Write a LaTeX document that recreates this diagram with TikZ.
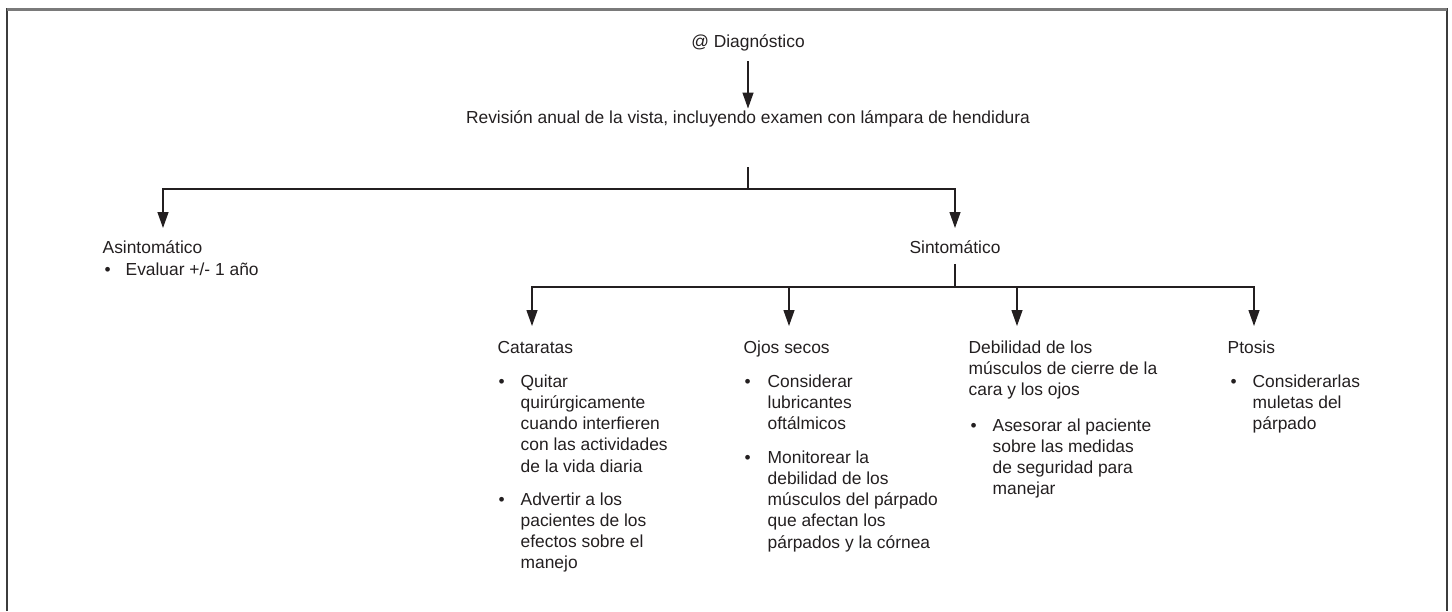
\documentclass[tikz,border=0pt]{standalone}
\usepackage{fontspec}
\setmainfont{Liberation Sans}
\usetikzlibrary{arrows.meta, positioning, calc}
\definecolor{cink}{HTML}{231F20}
\definecolor{cframe}{HTML}{3C3C3C}
\definecolor{cgrey}{HTML}{7A7A7A}
\newcommand{\stacktxt}[1]{\begin{tabular}[t]{@{}l@{}}#1\end{tabular}}
\tikzset{
  every picture/.style={font=\fontsize{17.4}{21.3}\selectfont, line width=1.3pt, x=1pt, y=-1pt},
  head/.style={anchor=base, inner sep=0pt, text=cink},
  label/.style={anchor=base west, inner sep=0pt, text=cink},
  dot/.style={anchor=base west, inner sep=0pt, text=cink},
  link/.style={draw=cink, line width=1.3pt},
  arrow/.style={-{Triangle[length=16pt, width=11pt]}, draw=cink, line width=1.3pt},
}
\begin{document}
\begin{tikzpicture}
  \useasboundingbox (0,0) rectangle (1452,611);
  % frame
  \draw[cframe, line width=2.4pt] (7,611) -- (7,9) -- (1447,9) -- (1447,611);
  \draw[cgrey, line width=3pt] (7,9) -- (1447,9);

  % top of the tree
  \node[head] (diag) at (748,47) {@ Diagnóstico};
  \node[head] (rev) at (748,123) {Revisión anual de la vista, incluyendo examen con lámpara de hendidura};
  \draw[arrow, shorten <=10pt, shorten >=1pt] (diag) -- (rev);
  \coordinate (b1) at (748,189);
  \coordinate (tas) at (163,228);
  \coordinate (tsi) at (955,228);
  \draw[link, shorten <=40pt] (rev) -- (b1);
  \draw[arrow] (b1) -| (tas);
  \draw[arrow] (b1) -| (tsi);

  % asintomatico
  \node[label] (asint) at (102,253) {Asintomático};
  \node[dot] (asd1) at (104,275) {\textbullet};
  \node[label] (asi1) at (125,275) {Evaluar +/- 1 año};

  % sintomatico
  \node[head] (sint) at (955,253) {Sintomático};
  \coordinate (b2) at (955,287);
  \draw[link, shorten <=10pt] (sint) -- (b2);
  \foreach \n/\x in {cat/532, ojo/789, deb/1017, pto/1254} {
    \coordinate (t\n) at (\x,326);
    \draw[arrow] (b2) -| (t\n);
  }

  % cataratas
  \node[label] (cat) at (497,353) {Cataratas};
  \node[dot] (catd1) at (498,387) {\textbullet};
  \node[label] (cati1) at (520,387) {\stacktxt{Quitar\\quirúrgicamente\\cuando interfieren\\con las actividades\\de la vida diaria}};
  \node[dot] (catd2) at (498,505) {\textbullet};
  \node[label] (cati2) at (520,505) {\stacktxt{Advertir a los\\pacientes de los\\efectos sobre el\\manejo}};

  % ojos secos
  \node[label] (ojo) at (743,353) {Ojos secos};
  \node[dot] (ojod1) at (744,387) {\textbullet};
  \node[label] (ojoi1) at (767,387) {\stacktxt{Considerar\\lubricantes\\oftálmicos}};
  \node[dot] (ojod2) at (744,463) {\textbullet};
  \node[label] (ojoi2) at (767,463) {\stacktxt{Monitorear la\\debilidad de los\\músculos del párpado\\que afectan los\\párpados y la córnea}};

  % debilidad
  \node[label] (deb) at (968,353) {\stacktxt{Debilidad de los\\músculos de cierre de la\\cara y los ojos}};
  \node[dot] (debd1) at (970,431) {\textbullet};
  \node[label] (debi1) at (992,431) {\stacktxt{Asesorar al paciente\\sobre las medidas\\de seguridad para\\manejar}};

  % ptosis
  \node[label] (pto) at (1227,353) {Ptosis};
  \node[dot] (ptod1) at (1230,387) {\textbullet};
  \node[label] (ptoi1) at (1252,387) {\stacktxt{Considerarlas\\muletas del\\párpado}};
\end{tikzpicture}
\end{document}
